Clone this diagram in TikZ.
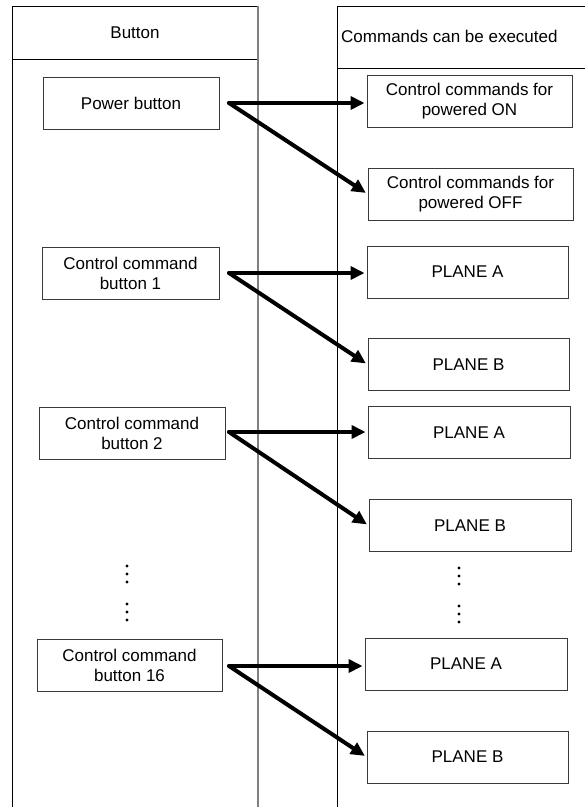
\documentclass[tikz,border=0pt]{standalone}
\usepackage{fontspec}
\setmainfont{Liberation Sans}
\usetikzlibrary{arrows.meta}
\definecolor{diagink}{HTML}{000000}
\definecolor{lanegray}{HTML}{808080}
\definecolor{boxgray}{HTML}{3A3A3A}

\begin{document}
\begin{tikzpicture}[x=1pt,y=-1pt,
  point/.style={coordinate},
  block/.style={draw=boxgray, line width=0.9pt, rectangle, minimum height=52pt, inner sep=0pt, align=center, text=diagink, font=\fontsize{17}{20}\selectfont},
  head/.style={inner sep=0pt, text=diagink, font=\fontsize{17}{20}\selectfont},
  lane/.style={draw=diagink, line width=1pt},
  link/.style={draw=diagink, -{Triangle[length=14pt,width=13pt]}, line width=4pt, line cap=round, shorten >=2pt}]
\useasboundingbox (0,0) rectangle (585,807);
% lanes
\draw[lane] (12,810) -- (12,6) -- (258,6);
\draw[lane] (12,59) -- (258,59);
\draw[draw=lanegray, line width=1.4pt] (258,6) -- (258,810);
\draw[lane, line width=0.8pt] (337,810) -- (337,6) -- (590,6);
\draw[lane] (337,68) -- (590,68);
\node[head] (h0) at (135,33) {Button};
\node[head, anchor=west] (h1) at (341,36) {Commands can be executed};
% buttons
\node[block, minimum width=176pt] (0) at (131,103) {Power button};
\node[block, minimum width=177pt] (3) at (130.5,273) {Control command\\button 1};
\node[block, minimum width=186pt] (6) at (132,433) {Control command\\button 2};
\node[block, minimum width=185pt] (9) at (129.5,665.5) {Control command\\button 16};
% commands
\node[block, minimum width=205pt] (1) at (469.5,101) {Control commands for\\powered ON};
\node[block, minimum width=205pt] (2) at (470.5,194) {Control commands for\\powered OFF};
\node[block, minimum width=201pt] (4) at (467.5,272) {PLANE A};
\node[block, minimum width=201pt] (5) at (468.5,364.5) {PLANE B};
\node[block, minimum width=202pt] (7) at (469,432.5) {PLANE A};
\node[block, minimum width=202pt] (8) at (470,525.5) {PLANE B};
\node[block, minimum width=202pt] (10) at (466,664) {PLANE A};
\node[block, minimum width=201pt] (11) at (467.5,757) {PLANE B};
% arrow starts
\node[point] (p0) at (229,103) {};
\node[point] (p3) at (229,273) {};
\node[point] (p6) at (229,432) {};
\node[point] (p9) at (229,666) {};
\draw[link] (p0) -- (p0 -| 1.west);
\draw[link] (p0) -- (2.west);
\draw[link] (p3) -- (p3 -| 4.west);
\draw[link] (p3) -- (5.west);
\draw[link] (p6) -- (p6 -| 7.west);
\draw[link] (p6) -- (8.west);
\draw[link] (p9) -- (p9 -| 10.west);
\draw[link] (p9) -- (11.west);
% dots
\foreach \y in {566,574,582,604,612,620}
  \fill[diagink] (127,\y) circle (1.6pt);
\foreach \y in {568,576,584,606,614,622}
  \fill[diagink] (459,\y) circle (1.6pt);
\end{tikzpicture}
\end{document}
